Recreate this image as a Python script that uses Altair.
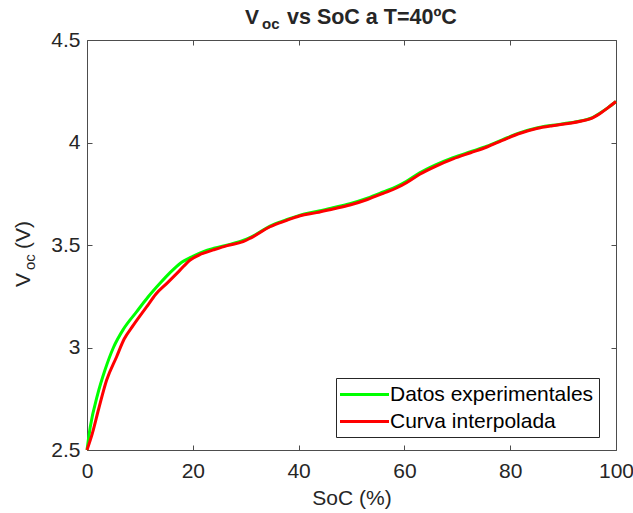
import altair as alt
import pandas as pd

# ---- data ----
soc_exp = [0, 0.6, 2, 3.4, 5, 6.9, 9.4, 11.5, 13.8, 15.7, 17.6, 20, 22, 24, 27, 29.5, 31,
           34.6, 37.5, 40.3, 43.4, 46.5, 49.7, 53, 56, 58.5, 60.4, 62.9, 66, 69.2, 72.5,
           75.6, 78.5, 81.9, 85, 88, 91.3, 93.5, 95.1, 97, 98.5, 100]
v_exp = [2.50, 2.61, 2.77, 2.89, 3.00, 3.09, 3.175, 3.245, 3.313, 3.365, 3.41, 3.445, 3.468,
         3.484, 3.503, 3.522, 3.538, 3.592, 3.621, 3.646, 3.663, 3.682, 3.702, 3.729, 3.759,
         3.785, 3.811, 3.852, 3.892, 3.926, 3.955, 3.982, 4.013, 4.048, 4.071, 4.084, 4.096,
         4.106, 4.117, 4.144, 4.17, 4.20]

soc_int = [0, 1, 2.2, 3.7, 5.6, 7, 8.8, 11.3, 13, 15.1, 17.5, 19.5, 21.5, 23.9, 26.5, 29.5,
           31, 34.6, 37.5, 40.3, 43.4, 46.5, 49.7, 53, 56, 58.5, 60.4, 62.9, 66, 69.2, 72.5,
           75.6, 78.5, 81.9, 85, 88, 91.3, 93.5, 95.1, 97, 98.5, 100]
v_int = [2.50, 2.58, 2.70, 2.84, 2.955, 3.04, 3.11, 3.199, 3.26, 3.313, 3.375, 3.427, 3.455,
         3.476, 3.497, 3.516, 3.535, 3.589, 3.618, 3.643, 3.658, 3.676, 3.695, 3.722, 3.752,
         3.778, 3.804, 3.845, 3.885, 3.920, 3.950, 3.978, 4.010, 4.045, 4.068, 4.082, 4.094,
         4.105, 4.115, 4.142, 4.17, 4.20]

series = ["Datos experimentales", "Curva interpolada"]
colors = ["#00ff00", "#ff0000"]
x_ticks = [0, 20, 40, 60, 80, 100]
y_ticks = [2.5, 3, 3.5, 4, 4.5]
x_title = "SoC (%)"
title_parts = ["V", "oc", "vs SoC a T=40ºC"]
ylabel_parts = ["V", "oc", "(V)"]

FONT = "Liberation Sans"
TXT = "#262626"
AXC = "#4d4d4d"

df_exp = pd.DataFrame({"soc": soc_exp, "v": v_exp, "serie": series[0]})
df_int = pd.DataFrame({"soc": soc_int, "v": v_int, "serie": series[1]})

xscale = alt.Scale(domain=[0, 100], nice=False, zero=False)
yscale = alt.Scale(domain=[2.5, 4.5], nice=False, zero=False)
cscale = alt.Scale(domain=series, range=colors)

AX = dict(labelFont=FONT, labelFontSize=21, labelColor=TXT, tickColor=AXC, tickSize=5,
          tickWidth=1, domain=False, grid=False, offset=-5, labelFlush=False,
          labelOverlap=False)

legend = alt.Legend(title=None, orient="none", legendX=249, legendY=338, direction="vertical",
                    fillColor="white", strokeColor=TXT, padding=5,
                    symbolType="M-2.45,0H2.45", symbolSize=400, symbolStrokeWidth=3,
                    symbolOffset=12, labelLimit=400,
                    labelFontSize=21, labelFont=FONT, labelColor="black", rowPadding=5,
                    labelOffset=14)

exp = alt.Chart(df_exp).mark_line(strokeWidth=3, interpolate="monotone").encode(
    x=alt.X("soc:Q", scale=xscale,
            axis=alt.Axis(orient="bottom", values=x_ticks, format="d", title=x_title,
                          titleFont=FONT, titleFontSize=21, titleFontWeight="normal",
                          titleColor=TXT, titlePadding=6, labelPadding=10, **AX)),
    y=alt.Y("v:Q", scale=yscale,
            axis=alt.Axis(orient="left", values=y_ticks, format=".1~f", title=None,
                          labelPadding=7, **AX)),
    color=alt.Color("serie:N", scale=cscale, legend=legend),
)

intp = alt.Chart(df_int).mark_line(strokeWidth=3, interpolate="monotone").encode(
    x=alt.X("soc:Q", scale=xscale,
            axis=alt.Axis(orient="top", values=x_ticks, labels=False, title=None, **AX)),
    y=alt.Y("v:Q", scale=yscale,
            axis=alt.Axis(orient="right", values=y_ticks, labels=False, title=None, **AX)),
    color=alt.Color("serie:N", scale=cscale, legend=legend),
)

one = pd.DataFrame({"k": [0]})


def txt(s, x, y, size, weight="normal", angle=0):
    kw = dict(align="left", baseline="alphabetic", font=FONT, fontSize=size,
              fontWeight=weight, color=TXT, text=s)
    if angle:
        kw["angle"] = angle
    return alt.Chart(one).mark_text(**kw).encode(x=alt.value(x), y=alt.value(y))


t1 = txt(title_parts[0], 158, -16, 21, "bold")
t2 = txt(title_parts[1], 175, -11.5, 15, "bold")
t3 = txt(title_parts[2], 200, -16, 21.5, "bold")
y1 = txt(ylabel_parts[0], -57, 247, 21, angle=270)
y2 = txt(ylabel_parts[1], -52.5, 230, 15, angle=270)
y3 = txt(ylabel_parts[2], -57, 209, 21, angle=270)

chart = alt.layer(exp, intp, t1, t2, t3, y1, y2, y3).resolve_axis(
    x="independent", y="independent"
).properties(
    width=529, height=410,
    autosize=alt.AutoSizeParams(type="none"),
    padding={"left": 87, "top": 40, "right": 17, "bottom": 63},
    background="white",
).configure_view(stroke=AXC, strokeWidth=1)

chart.save("out.html", embed_options={"renderer": "svg", "actions": False})
